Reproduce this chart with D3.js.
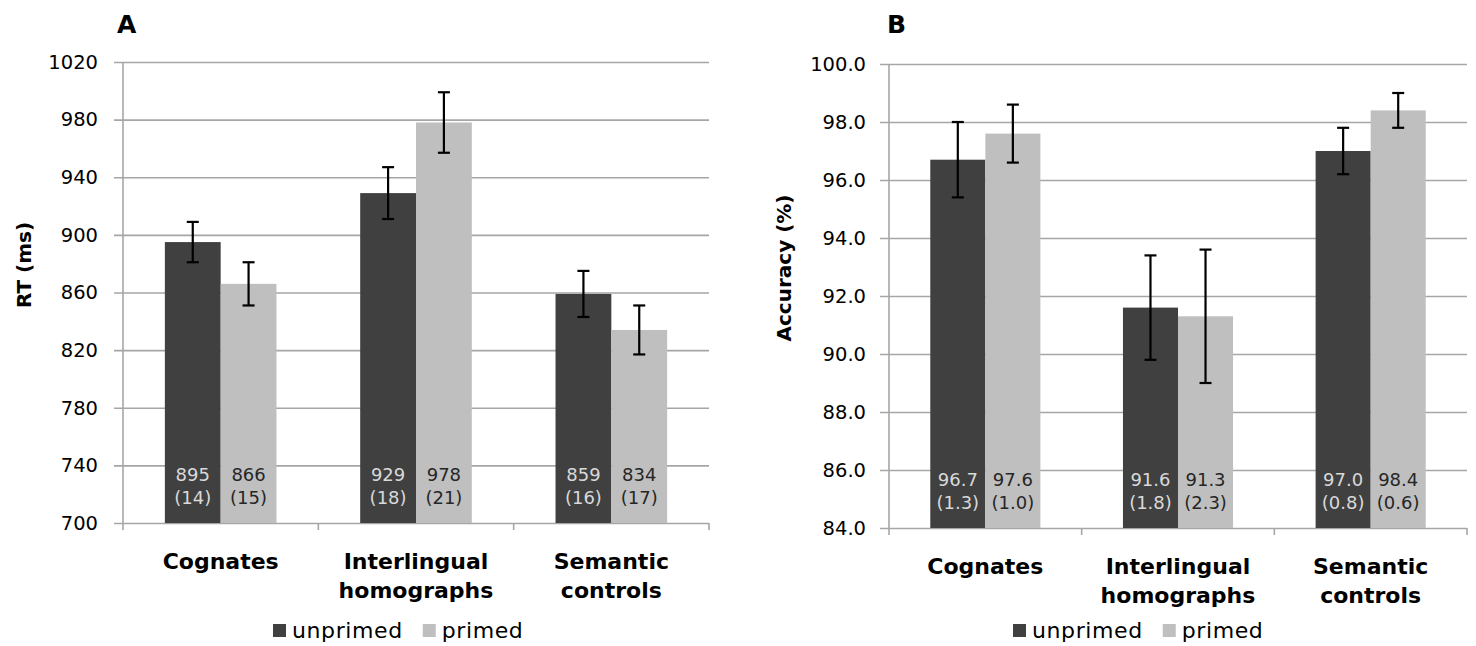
<!DOCTYPE html>
<html>
<head>
<meta charset="utf-8">
<script src="https://cdn.jsdelivr.net/npm/d3@7"></script>
<style>
  body { margin: 0; background: #fff; }
  svg text { font-family: "DejaVu Sans", sans-serif; }
</style>
</head>
<body>
<svg id="chart" width="1476" height="646"></svg>
<script>
// categories and series
const categories = [["Cognates"], ["Interlingual", "homographs"], ["Semantic", "controls"]]
const seriesNames = ["unprimed", "primed"]

// panel A - reaction times
const rtUnprimed = [895, 929, 859]
const rtUnprimedSE = [14, 18, 16]
const rtPrimed = [866, 978, 834]
const rtPrimedSE = [15, 21, 17]
const rtTicks = [700, 740, 780, 820, 860, 900, 940, 980, 1020]

// panel B - accuracy
const accUnprimed = [96.7, 91.6, 97.0]
const accUnprimedSE = [1.3, 1.8, 0.8]
const accPrimed = [97.6, 91.3, 98.4]
const accPrimedSE = [1.0, 2.3, 0.6]
const accTicks = [84, 86, 88, 90, 92, 94, 96, 98, 100]

const colors = ["#404040", "#bfbfbf"]
const labelColors = ["#d9d9d9", "#262626"]
const gridColor = "#a6a6a6"

const svg = d3.select("#chart")

/*
 * Draws one bar chart panel
 */
function drawPanel(p) {
  const w = p.right - p.left
  const h = p.bottom - p.top
  const g = svg.append("g").attr("transform", "translate(" + p.left + "," + p.top + ")")

  const y = d3.scaleLinear().domain([p.ticks[0], p.ticks[p.ticks.length - 1]]).range([h, 0])
  const x = d3.scaleBand().domain(d3.range(categories.length)).range([0, w]).padding(0)
  const xs = d3.scaleBand().domain([0, 1]).range([0, x.bandwidth()]).paddingInner(0).paddingOuter(0.75)

  // gridlines + tick labels
  const yAxis = g.append("g")
    .call(d3.axisLeft(y).tickValues(p.ticks).tickSize(-w - 9).tickPadding(14).tickFormat(p.fmt))
    .attr("transform", "translate(-9,0)")
  yAxis.select(".domain").remove()
  yAxis.selectAll(".tick line").attr("stroke", gridColor).attr("stroke-width", 1.6).attr("x1", 0).attr("x2", w + 9)
  yAxis.selectAll(".tick text").attr("fill", "#000").style("font-size", "19.5px")
    .attr("x", -(p.labelGap))

  // left axis line
  g.append("line").attr("x1", 0).attr("x2", 0).attr("y1", 0).attr("y2", h + 7)
    .attr("stroke", gridColor).attr("stroke-width", 1.6)

  // category boundary ticks
  g.selectAll(".ctick").data(d3.range(1, categories.length + 1)).join("line")
    .attr("x1", d => x.step() * d).attr("x2", d => x.step() * d)
    .attr("y1", h).attr("y2", h + 7)
    .attr("stroke", gridColor).attr("stroke-width", 1.6)

  const series = [
    {vals: p.unprimed, se: p.unprimedSE},
    {vals: p.primed, se: p.primedSE}
  ]

  series.forEach(function(s, si) {
    const bx = i => x(i) + xs(si)
    g.selectAll(".bar" + si).data(s.vals).join("rect")
      .attr("x", (d, i) => bx(i))
      .attr("y", d => y(d))
      .attr("width", xs.bandwidth())
      .attr("height", d => h - y(d))
      .attr("fill", colors[si])

    // error bars
    s.vals.forEach(function(v, i) {
      const cx = bx(i) + xs.bandwidth() / 2
      const eg = g.append("g").attr("stroke", "#000").attr("stroke-width", 2.2)
      eg.append("line").attr("x1", cx).attr("x2", cx).attr("y1", y(v + s.se[i])).attr("y2", y(v - s.se[i]))
      eg.append("line").attr("x1", cx - 6).attr("x2", cx + 6).attr("y1", y(v + s.se[i])).attr("y2", y(v + s.se[i]))
      eg.append("line").attr("x1", cx - 6).attr("x2", cx + 6).attr("y1", y(v - s.se[i])).attr("y2", y(v - s.se[i]))

      // value labels inside the bar
      const t = g.append("text").attr("text-anchor", "middle").attr("fill", labelColors[si])
        .style("font-size", "18px")
      t.append("tspan").attr("x", cx).attr("y", h - 42).text(p.fmt(v))
      t.append("tspan").attr("x", cx).attr("y", h - 19).text("(" + p.fmtSE(s.se[i]) + ")")
    })
  })

  // category labels
  categories.forEach(function(lines, i) {
    const t = g.append("text").attr("text-anchor", "middle").style("font-size", "22px")
      .style("font-weight", "bold").attr("fill", "#000")
    lines.forEach(function(l, li) {
      t.append("tspan").attr("x", x(i) + x.bandwidth() / 2).attr("y", h + 46 + li * 29).text(l)
    })
  })

  // legend
  let lx = p.legendX
  seriesNames.forEach(function(name, si) {
    svg.append("rect").attr("x", lx).attr("y", p.legendY - 14).attr("width", 13).attr("height", 13)
      .attr("fill", colors[si])
    const t = svg.append("text").attr("x", lx + 19).attr("y", p.legendY).style("font-size", "22px")
      .style("letter-spacing", "0.6px").attr("fill", "#000").text(name)
    lx += 19 + t.node().getComputedTextLength() + 20
  })

  // axis title
  svg.append("text")
    .attr("transform", "translate(" + p.titleX + "," + p.titleY + ") rotate(-90)")
    .attr("text-anchor", "middle").style("font-size", "20px").style("font-weight", "bold")
    .text(p.yTitle)

  // panel letter
  svg.append("text").attr("x", p.letterX).attr("y", 33).style("font-size", "25px")
    .style("font-weight", "bold").text(p.letter)
}

drawPanel({
  left: 123, right: 709, top: 62, bottom: 523,
  ticks: rtTicks, fmt: d3.format("d"), fmtSE: d3.format("d"), labelGap: 16,
  unprimed: rtUnprimed, unprimedSE: rtUnprimedSE, primed: rtPrimed, primedSE: rtPrimedSE,
  legendX: 273, legendY: 638, titleX: 31, titleY: 265, yTitle: "RT (ms)", letter: "A", letterX: 117
})

drawPanel({
  left: 889, right: 1467, top: 64, bottom: 528,
  ticks: accTicks, fmt: d3.format(".1f"), fmtSE: d3.format(".1f"), labelGap: 14,
  unprimed: accUnprimed, unprimedSE: accUnprimedSE, primed: accPrimed, primedSE: accPrimedSE,
  legendX: 1013, legendY: 638, titleX: 791, titleY: 268, yTitle: "Accuracy (%)", letter: "B", letterX: 887
})
</script>
</body>
</html>
